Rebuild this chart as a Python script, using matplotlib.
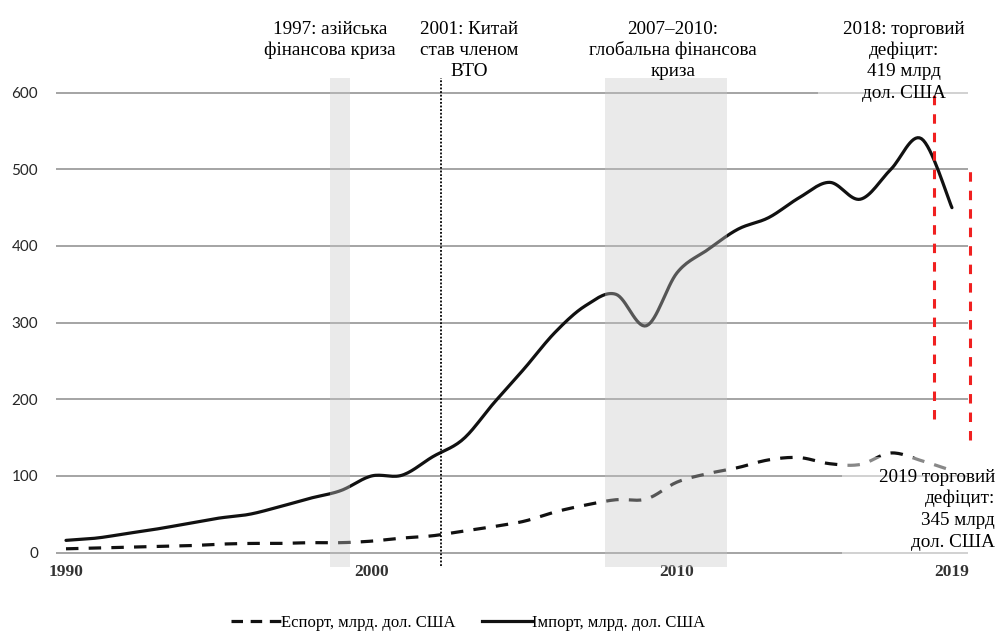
import numpy as np
import matplotlib
matplotlib.use('Agg')
import matplotlib.pyplot as plt
from matplotlib.lines import Line2D
from matplotlib.patches import Rectangle

# ---------------- data ----------------
years = list(range(1990, 2020))
imports = [16, 19, 25, 31, 38, 45, 50, 60, 71, 81,
           100, 101, 125, 148, 195, 240, 287, 322, 337, 296,
           365, 395, 422, 437, 463, 483, 461, 500, 540, 450]
exports = [5, 6, 7, 8, 9, 11, 12, 12, 13, 13,
           15, 19, 22, 28, 34, 41, 53, 62, 69, 70,
           92, 103, 111, 121, 124, 116, 115, 130, 120, 107]
crisis_spans = [(1998.64, 1999.30), (2007.64, 2011.64)]
wto_year = 2002.27
deficit_2018 = (2018.41, 174, 597)
deficit_2019 = (2019.59, 147, 499)
yticks = [0, 100, 200, 300, 400, 500, 600]
xticks = [1990, 2000, 2010, 2019]
legend_labels = ['Еспорт, млрд. дол. США', 'Імпорт, млрд. дол. США']

W, H = 996, 635


def smooth(x, y, n=16):
    P = np.column_stack([np.asarray(x, float), np.asarray(y, float)])
    out = [P[0]]
    t = np.linspace(0, 1, n + 1)[1:, None]
    for i in range(len(P) - 1):
        p0 = P[i - 1] if i > 0 else P[i]
        p1, p2 = P[i], P[i + 1]
        p3 = P[i + 2] if i + 2 < len(P) else P[i + 1]
        c1 = p1 + (p2 - p0) / 6
        c2 = p2 - (p3 - p1) / 6
        B = (1 - t) ** 3 * p1 + 3 * (1 - t) ** 2 * t * c1 + 3 * (1 - t) * t ** 2 * c2 + t ** 3 * p2
        out.extend(B)
    return np.array(out)


def yr(px):
    return 1990 + (px - 66) / 30.55


def val(py):
    return (552.6 - py) / 0.7665


fig = plt.figure(figsize=(W / 100, H / 100), dpi=100)
ax = fig.add_axes([56 / W, (H - 560.3) / H, (968 - 56) / W, (560.3 - 62.0) / H])
ax.set_xlim(yr(56), yr(968))
ax.set_ylim(-10, 640)
for s in ax.spines.values():
    s.set_visible(False)

for v in yticks:
    ax.axhline(v, color='#8c8c8c', lw=1.1, zorder=1)

ax.set_yticks(yticks)
ax.set_yticklabels([str(v) for v in yticks], fontfamily='Lato', fontsize=11, color='#262626')
ax.set_xticks(xticks)
ax.set_xticklabels([str(v) for v in xticks], fontfamily='Liberation Serif',
                   fontweight='bold', fontsize=12.5, color='#333333')
ax.tick_params(axis='y', length=0, pad=13)
ax.tick_params(axis='x', length=0, pad=3)

imp = smooth(years, imports)
exp = smooth(years, exports)
ax.plot(imp[:, 0], imp[:, 1], color='#111111', lw=2.3, solid_capstyle='round', zorder=3)
ax.plot(exp[:, 0], exp[:, 1], color='#111111', lw=2.3, linestyle=(0, (3.9, 3.2)), zorder=3)

for a, b in crisis_spans:
    ax.add_patch(Rectangle((a, val(567)), b - a, val(78) - val(567), facecolor='#c8c8c8',
                           alpha=0.38, lw=0, zorder=4, clip_on=False))

ax.plot([wto_year, wto_year], [val(566), val(78)], color='black', lw=1.3,
        linestyle=(0, (1, 1)), zorder=5, clip_on=False)

# semi-transparent label boxes
ax.add_patch(Rectangle((yr(818), val(100)), yr(996) - yr(818), val(5) - val(100),
                       facecolor='white', alpha=0.5, lw=0, zorder=6, clip_on=False))
ax.add_patch(Rectangle((yr(842), val(560)), yr(996) - yr(842), val(457) - val(560),
                       facecolor='white', alpha=0.5, lw=0, zorder=6, clip_on=False))

for x, y0, y1 in (deficit_2018, deficit_2019):
    ax.plot([x, x], [y0, y1], color='#f02020', lw=2.2, linestyle=(0, (3.1, 2.95)),
            zorder=7, clip_on=False)


def ftext(x, y, s, ha='center'):
    fig.text(x / W, 1 - y / H, s, ha=ha, va='baseline', fontfamily='Liberation Serif',
             fontsize=13.8, color='black', zorder=10)


ls = 21.4
for i, s in enumerate(['1997: азійська', 'фінансова криза']):
    ftext(330, 33.5 + i * ls, s)
for i, s in enumerate(['2001: Китай', 'став членом', 'ВТО']):
    ftext(469, 33.5 + i * ls, s)
for i, s in enumerate(['2007–2010:', 'глобальна фінансова', 'криза']):
    ftext(673, 33.5 + i * ls, s)
for i, s in enumerate(['2018: торговий', 'дефіцит:', '419 млрд', 'дол. США']):
    ftext(904, 33.5 + i * ls, s)
for i, s in enumerate(['2019 торговий', 'дефіцит:', '345 млрд', 'дол. США']):
    ftext(995, 481.7 + i * 21.7, s, ha='right')

handles = [Line2D([], [], color='#111111', lw=2.3, linestyle=(0, (3.6, 2.4))),
           Line2D([], [], color='#111111', lw=2.3)]
fig.legend(handles, legend_labels, loc='center', bbox_to_anchor=(468 / W, 1 - 623 / H),
           ncol=2, frameon=False, prop={'family': 'Liberation Serif', 'size': 12},
           handlelength=3.0, handletextpad=0.0, columnspacing=1.55)

fig.savefig('out.png', dpi=100)
